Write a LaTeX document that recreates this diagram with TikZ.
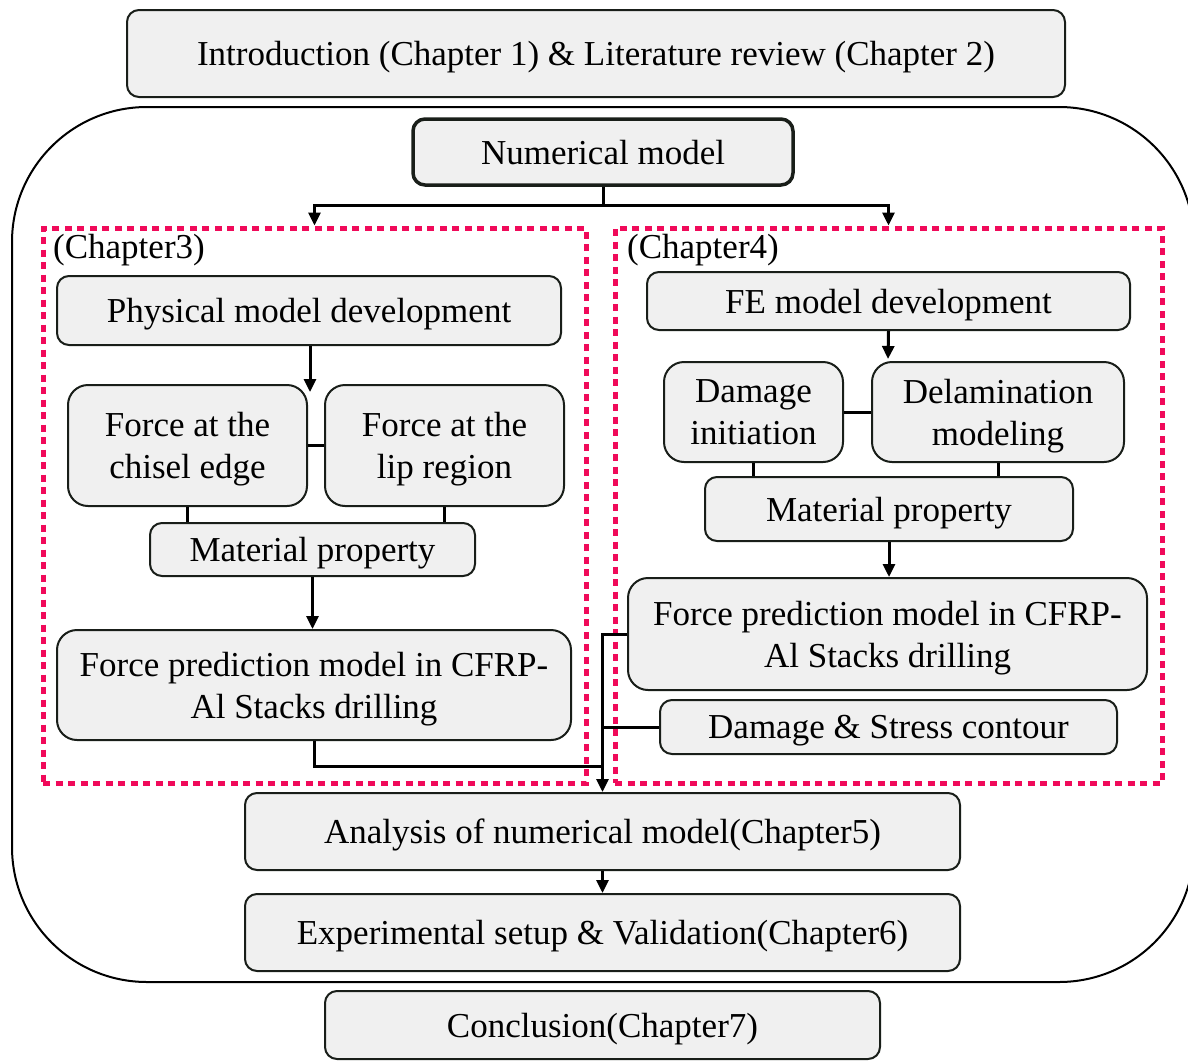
\documentclass[tikz,border=0pt]{standalone}
\usepackage{fontspec}
\setmainfont{Liberation Serif}
\usetikzlibrary{arrows.meta}
\definecolor{boxgray}{RGB}{240,240,240}
\definecolor{boxline}{RGB}{25,30,25}
\definecolor{chapred}{RGB}{240,10,90}
\begin{document}
\begin{tikzpicture}[x=1pt,y=-1pt,
  box/.style={draw=boxline, line width=2pt, fill=boxgray, rounded corners=12pt,
    font=\fontsize{35}{42}\selectfont, align=center, inner sep=0pt, text depth=0pt},
  bigbox/.style={box, rounded corners=20pt},
  chapbox/.style={draw=chapred, line width=5pt, dash pattern=on 7pt off 5.5pt, inner sep=0pt},
  link/.style={draw=black, line width=3pt},
  conn/.style={link, -{Triangle[length=13pt,width=12pt]}},
  lbl/.style={font=\fontsize{35}{42}\selectfont, inner sep=0pt, anchor=west}]
\useasboundingbox (0,0) rectangle (1188,1060);

% outer frame around the numerical-model chapters
\draw[line width=2pt, rounded corners=135pt] (12,107) rectangle (1194,982);

\node[box, minimum width=938pt, minimum height=87pt] (intro) at (596,53.5)
  {Introduction (Chapter 1) \& Literature review (Chapter 2)};

\node[box, line width=3.5pt, minimum width=380pt, minimum height=66pt] (num) at (603,152)
  {Numerical model};

% chapter groups
\node[chapbox, minimum width=543pt, minimum height=555pt] (ch3) at (314.5,505.5) {};
\node[chapbox, minimum width=547pt, minimum height=555pt] (ch4) at (888.5,505.5) {};
\node[lbl] (ch3l) at (53,250) {(Chapter3)};
\node[lbl] (ch4l) at (627,250) {(Chapter4)};

% Chapter 3
\node[box, minimum width=504pt, minimum height=69pt] (phys) at (309,310.5)
  {Physical model development};
\node[bigbox, minimum width=239pt, minimum height=121pt] (chisel) at (187.5,445.5)
  {Force at the\\chisel edge};
\node[bigbox, minimum width=239pt, minimum height=121pt] (lip) at (444.5,445.5)
  {Force at the\\lip region};
\node[box, minimum width=325pt, minimum height=53pt] (matL) at (312.5,549.5)
  {Material property};
\node[bigbox, minimum width=514pt, minimum height=110pt] (fpL) at (314,685)
  {Force prediction model in CFRP-\\Al Stacks drilling};

% Chapter 4
\node[box, minimum width=483pt, minimum height=58pt] (fe) at (888.5,301)
  {FE model development};
\node[bigbox, minimum width=179pt, minimum height=100pt] (dmg) at (753.5,412)
  {Damage\\initiation};
\node[bigbox, minimum width=252pt, minimum height=100pt] (delam) at (998,412)
  {Delamination\\modeling};
\node[box, minimum width=368pt, minimum height=64pt] (matR) at (889,509)
  {Material property};
\node[bigbox, minimum width=519pt, minimum height=112pt] (fpR) at (887.5,634)
  {Force prediction model in CFRP-\\Al Stacks drilling};
\node[box, minimum width=457pt, minimum height=54pt] (dsc) at (888.5,727)
  {Damage \& Stress contour};

% later chapters
\node[box, minimum width=715pt, minimum height=77pt] (ana) at (602.5,831.5)
  {Analysis of numerical model(Chapter5)};
\node[box, minimum width=715pt, minimum height=77pt] (exp) at (602.5,932.5)
  {Experimental setup \& Validation(Chapter6)};
\node[box, minimum width=555pt, minimum height=68pt] (conc) at (602.5,1025)
  {Conclusion(Chapter7)};

% connectors
\coordinate (split) at (603,205);
\draw[link] (num.south) -- (split);
\draw[conn] (split) -| (ch3.north);
\draw[conn] (split) -| (ch4.north);

\coordinate (physend) at (310,392);
\draw[conn] (phys.south -| physend) -- (physend);
\draw[link] (chisel.east) -- (lip.west);
\draw[link] (chisel.south) -- (chisel.south |- matL.north);
\draw[link] (lip.south) -- (lip.south |- matL.north);
\draw[conn] (matL.south) -- (matL.south |- fpL.north);

\coordinate (feend) at (888,359);
\draw[conn] (fe.south) -- (feend);
\draw[link] (dmg.east) -- (delam.west);
\draw[link] (dmg.south) -- (dmg.south |- matR.north);
\draw[link] (delam.south) -- (delam.south |- matR.north);
\draw[conn] (matR.south) -- (matR.south |- fpR.north);

\coordinate (jL) at (ana.north |- 0,766);
\draw[conn] (fpR.west) -| (ana.north);
\draw[link] (dsc.west) -- (dsc.west -| ana.north);
\draw[link] (fpL.south) |- (jL);
\draw[conn] (ana.south) -- (exp.north);
\end{tikzpicture}
\end{document}
